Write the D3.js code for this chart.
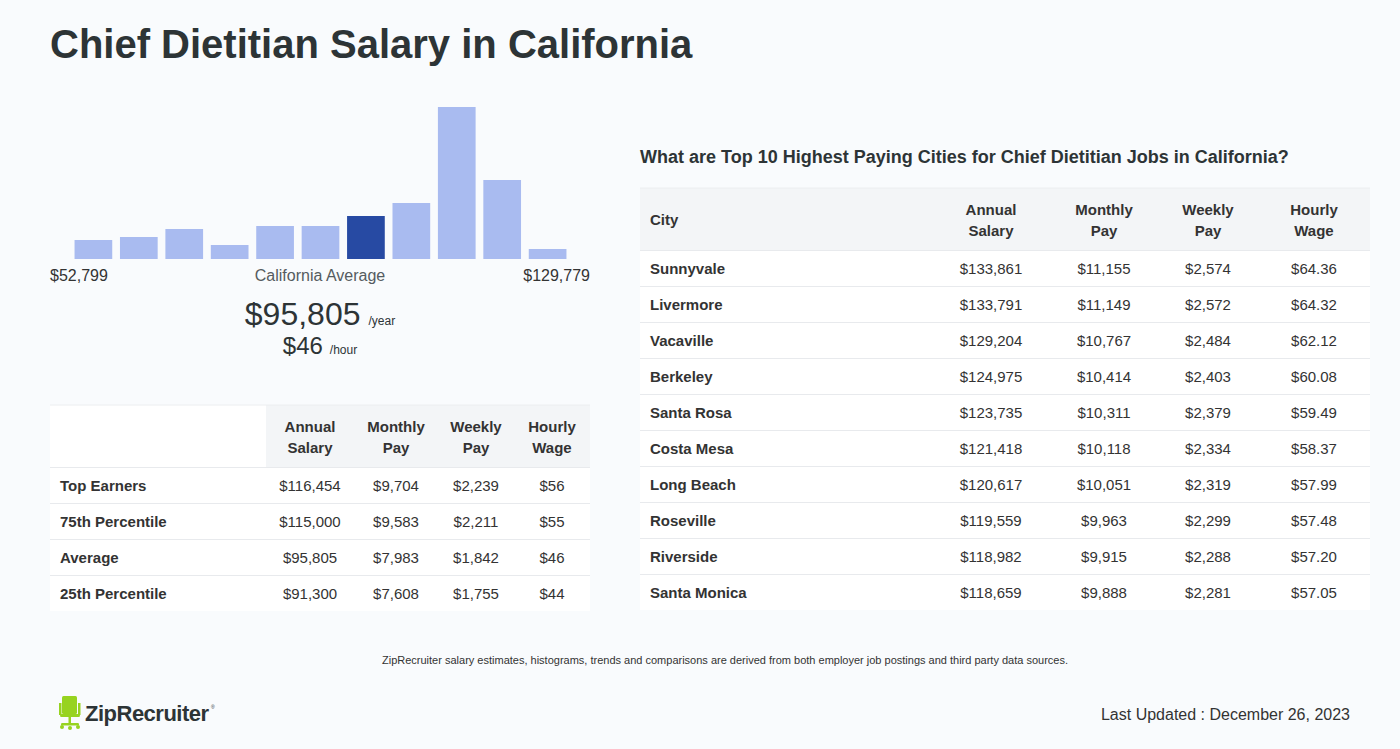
<!DOCTYPE html>
<html>
<head>
<meta charset="utf-8">
<script src="https://cdn.jsdelivr.net/npm/d3@7"></script>
<style>
  html, body { margin: 0; padding: 0; background: #f9fbfd; }
  svg { display: block; font-family: "Liberation Sans", Arial, sans-serif; }
</style>
</head>
<body>
<svg id="chart" width="1400" height="749"></svg>
<script>
// ---------------- DATA ----------------
const title = "Chief Dietitian Salary in California";
const histBins = ["b1","b2","b3","b4","b5","b6","b7","b8","b9","b10","b11"];
const histValues = [19, 22, 30, 14, 33, 33, 43, 56, 152, 79, 10];
const highlightBin = 6;
const histMinLabel = "$52,799";
const histMaxLabel = "$129,779";
const histCenterLabel = "California Average";
const avgYear = "$95,805";
const avgHour = "$46";

const summaryHeaders = [["Annual","Salary"],["Monthly","Pay"],["Weekly","Pay"],["Hourly","Wage"]];
const summaryRows = ["Top Earners","75th Percentile","Average","25th Percentile"];
const summaryAnnual = ["$116,454","$115,000","$95,805","$91,300"];
const summaryMonthly = ["$9,704","$9,583","$7,983","$7,608"];
const summaryWeekly = ["$2,239","$2,211","$1,842","$1,755"];
const summaryHourly = ["$56","$55","$46","$44"];

const cityTitle = "What are Top 10 Highest Paying Cities for Chief Dietitian Jobs in California?";
const cities = ["Sunnyvale","Livermore","Vacaville","Berkeley","Santa Rosa","Costa Mesa","Long Beach","Roseville","Riverside","Santa Monica"];
const cityAnnual = ["$133,861","$133,791","$129,204","$124,975","$123,735","$121,418","$120,617","$119,559","$118,982","$118,659"];
const cityMonthly = ["$11,155","$11,149","$10,767","$10,414","$10,311","$10,118","$10,051","$9,963","$9,915","$9,888"];
const cityWeekly = ["$2,574","$2,572","$2,484","$2,403","$2,379","$2,334","$2,319","$2,299","$2,288","$2,281"];
const cityHourly = ["$64.36","$64.32","$62.12","$60.08","$59.49","$58.37","$57.99","$57.48","$57.20","$57.05"];

const footnote = "ZipRecruiter salary estimates, histograms, trends and comparisons are derived from both employer job postings and third party data sources.";
const updated = "Last Updated : December 26, 2023";

// ---------------- DRAW ----------------
const svg = d3.select("#chart");
const dark = "#2d3436";
const textCol = "#333333";

svg.append("rect").attr("width",1400).attr("height",749).attr("fill","#f9fbfd");

svg.append("text").attr("x",50).attr("y",58).attr("font-size",40).attr("font-weight","bold")
  .attr("fill",dark).text(title);

// Histogram
const x = d3.scaleBand().domain(histBins).range([70, 571]).paddingInner(0.17).paddingOuter(0.1);
const y = d3.scaleLinear().domain([0, 152]).range([259, 107]);
svg.append("g").selectAll("rect").data(histValues).join("rect")
  .attr("x",(d,i)=>x(histBins[i]))
  .attr("y",d=>y(d))
  .attr("width",x.bandwidth())
  .attr("height",d=>y(0)-y(d))
  .attr("fill",(d,i)=> i===highlightBin ? "#274aa3" : "#a9bbf0");

svg.append("text").attr("x",50).attr("y",281).attr("font-size",16).attr("fill",textCol).text(histMinLabel);
svg.append("text").attr("x",590).attr("y",281).attr("font-size",16).attr("fill",textCol).attr("text-anchor","end").text(histMaxLabel);
svg.append("text").attr("x",320).attr("y",281).attr("font-size",16).attr("fill","#555b60").attr("text-anchor","middle").text(histCenterLabel);

const yr = svg.append("text").attr("x",320).attr("y",325).attr("text-anchor","middle").attr("fill",dark);
yr.append("tspan").attr("font-size",32).text(avgYear);
yr.append("tspan").attr("font-size",12).attr("dx",8).text("/year");
const hr = svg.append("text").attr("x",320).attr("y",354).attr("text-anchor","middle").attr("fill",dark);
hr.append("tspan").attr("font-size",24).text(avgHour);
hr.append("tspan").attr("font-size",12).attr("dx",7).text("/hour");

// Generic table
function drawTable(opts) {
  const g = svg.append("g");
  const {x0, x1, y0, headH, rowH, firstHead, headers, rows, cols, colX, headBgFrom} = opts;
  g.append("rect").attr("x",headBgFrom).attr("y",y0).attr("width",x1-headBgFrom).attr("height",headH).attr("fill","#f3f5f7");
  if (headBgFrom > x0) {
    g.append("rect").attr("x",x0).attr("y",y0).attr("width",headBgFrom-x0).attr("height",headH).attr("fill","#ffffff");
  }
  g.append("line").attr("x1",x0).attr("x2",x1).attr("y1",y0).attr("y2",y0).attr("stroke","#eceef0");
  if (firstHead) {
    g.append("text").attr("x",x0+10).attr("y",y0+headH/2+6).attr("font-size",15).attr("font-weight","bold").attr("fill",textCol).text(firstHead);
  }
  headers.forEach((h,i)=>{
    const t = g.append("text").attr("x",colX[i]).attr("y",y0+headH/2-4).attr("text-anchor","middle")
      .attr("font-size",15).attr("font-weight","bold").attr("fill",textCol);
    t.append("tspan").attr("x",colX[i]).text(h[0]);
    t.append("tspan").attr("x",colX[i]).attr("dy",21).text(h[1]);
  });
  const yb = y0 + headH;
  rows.forEach((r,i)=>{
    const ry = yb + i*rowH;
    g.append("rect").attr("x",x0).attr("y",ry).attr("width",x1-x0).attr("height",rowH).attr("fill","#ffffff");
    g.append("line").attr("x1",x0).attr("x2",x1).attr("y1",ry+0.5).attr("y2",ry+0.5).attr("stroke","#e8eaed").attr("stroke-width",1);
    g.append("text").attr("x",x0+10).attr("y",ry+rowH/2+6).attr("font-size",15).attr("font-weight","bold").attr("fill",textCol).text(r);
    cols.forEach((c,j)=>{
      g.append("text").attr("x",colX[j]).attr("y",ry+rowH/2+6).attr("text-anchor","middle")
        .attr("font-size",15).attr("fill",textCol).text(c[i]);
    });
  });
}

drawTable({x0:50, x1:590, y0:405, headH:62, rowH:36, firstHead:null,
  headers:summaryHeaders, rows:summaryRows,
  cols:[summaryAnnual, summaryMonthly, summaryWeekly, summaryHourly],
  colX:[310, 396, 476, 552], headBgFrom:266});

svg.append("text").attr("x",640).attr("y",163).attr("font-size",18).attr("font-weight","bold").attr("fill",dark).text(cityTitle);

drawTable({x0:640, x1:1370, y0:188, headH:62, rowH:36, firstHead:"City",
  headers:summaryHeaders, rows:cities,
  cols:[cityAnnual, cityMonthly, cityWeekly, cityHourly],
  colX:[991, 1104, 1208, 1314], headBgFrom:640});

svg.append("text").attr("x",725).attr("y",664).attr("font-size",11).attr("text-anchor","middle").attr("fill",textCol).text(footnote);

// Logo
const logo = svg.append("g").attr("fill","#97d320");
logo.append("rect").attr("x",62).attr("y",696).attr("width",15).attr("height",18).attr("rx",1.5);
logo.append("rect").attr("x",59).attr("y",703).attr("width",2.5).attr("height",12);
logo.append("rect").attr("x",78).attr("y",703).attr("width",2.5).attr("height",12);
logo.append("rect").attr("x",60).attr("y",714).attr("width",20).attr("height",3).attr("rx",1.5);
logo.append("rect").attr("x",68.5).attr("y",717).attr("width",2.5).attr("height",8);
logo.append("rect").attr("x",61).attr("y",723).attr("width",18).attr("height",2.5).attr("rx",1.2);
logo.append("circle").attr("cx",62).attr("cy",727).attr("r",2);
logo.append("circle").attr("cx",78).attr("cy",727).attr("r",2);
logo.append("circle").attr("cx",70).attr("cy",728).attr("r",2);
svg.append("text").attr("x",85).attr("y",721).attr("font-size",22).attr("font-weight","bold").attr("letter-spacing",-0.5)
  .attr("fill",dark).text("ZipRecruiter");
svg.append("text").attr("x",211).attr("y",709).attr("font-size",5).attr("fill",dark).text("®");

svg.append("text").attr("x",1350).attr("y",720).attr("font-size",16).attr("text-anchor","end").attr("fill",textCol).text(updated);
</script>
</body>
</html>
